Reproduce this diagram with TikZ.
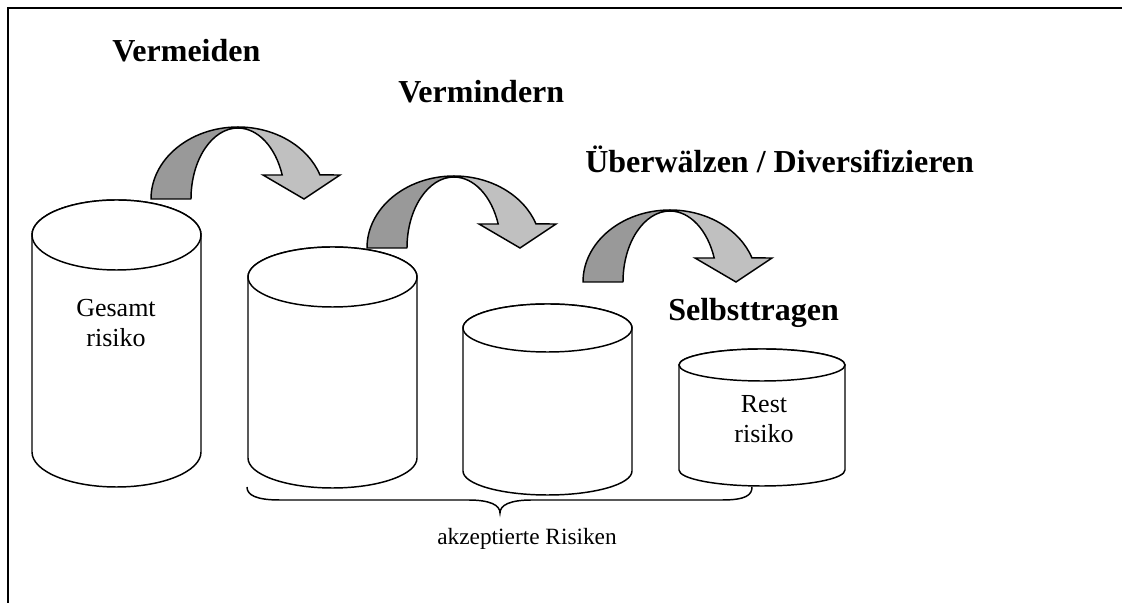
\documentclass[tikz,border=0pt]{standalone}
\usepackage{fontspec}
\setmainfont{Liberation Serif}
\begin{document}
\definecolor{archdark}{HTML}{999999}
\definecolor{archlight}{HTML}{C0C0C0}
\begin{tikzpicture}[x=0.75pt,y=0.75pt,
  frameline/.style={line width=1.5pt,line cap=rect},
  drum/.style={draw=black,line width=1.1pt,fill=white},
  backband/.style={draw=black,line width=1.1pt,fill=archdark,line join=round},
  frontband/.style={draw=black,line width=1.1pt,fill=archlight,line join=miter},
  heading/.style={inner sep=0pt,anchor=base west,font=\fontsize{24}{28}\bfseries\selectfont},
  drumlabel/.style={inner sep=0pt,align=center,font=\fontsize{19.5}{22.5}\selectfont},
  bracelabel/.style={inner sep=0pt,anchor=base,font=\fontsize{17.5}{21}\selectfont}]
\useasboundingbox (0,0) rectangle (1122,603);

% frame: top and left edges only
\draw[frameline] (8,-5) -- (8,595) -- (1130,595);

% cylinders: #1 centre x, #2 x radius, #3 top centre y, #4 bottom centre y, #5 y radius
\newcommand\drumshape[5]{%
  \draw[drum] (#1-#2,#3) -- (#1-#2,#4)
    arc[start angle=180,end angle=360,x radius=#2,y radius=#5]
    -- (#1+#2,#3)
    arc[start angle=0,end angle=180,x radius=#2,y radius=#5] -- cycle;
  \draw[drum] (#1,#3) ellipse[x radius=#2,y radius=#5];}
\drumshape{116.5}{84.5}{368}{151}{35}
\drumshape{332.5}{84.5}{326}{145}{30}
\drumshape{547.5}{84.5}{275}{132}{24}
\drumshape{762}{83}{238}{133}{16}

% curved arrows: back leg and front leg with head
\newcommand\archarrow[2]{%
  \begin{scope}[shift={(#1,#2)}]
    \draw[backband] (151,404)
      arc[start angle=180,end angle=90,x radius=87,y radius=72]
      -- (238,475)
      arc[start angle=90,end angle=180,x radius=47,y radius=71] -- cycle;
    \draw[frontband] (238,476)
      arc[start angle=90,end angle=19.5,x radius=87,y radius=72]
      -- (340,428) -- (304,404) -- (263,428) -- (282.2,428)
      arc[start angle=19.8,end angle=90,x radius=47,y radius=71] -- cycle;
  \end{scope}}
\archarrow{0}{0}
\archarrow{216}{-49}
\archarrow{432}{-83}

% headings
\node[heading] (avoid) at (112,541) {Vermeiden};
\node[heading] (reduce) at (398,500) {Vermindern};
\node[heading] (transfer) at (585,430) {Überwälzen / Diversifizieren};
\node[heading] (retain) at (668,282) {Selbsttragen};

% cylinder labels (base anchor sits on the last line)
\node[drumlabel,anchor=base] (total) at (116,256) {Gesamt\\risiko};
\node[drumlabel,anchor=base] (rest) at (764,160) {Rest\\risiko};

% brace under the accepted risks
\draw[line width=1.1pt] (247,116) .. controls (247,108) and (256,103) .. (280,103)
  -- (468,103) .. controls (490,103) and (500,98) .. (500,90)
  .. controls (500,98) and (510,103) .. (532,103)
  -- (722,103) .. controls (746,103) and (752,108) .. (752,116);
\node[bracelabel] (accepted) at (527,58) {akzeptierte Risiken};
\end{tikzpicture}
\end{document}
